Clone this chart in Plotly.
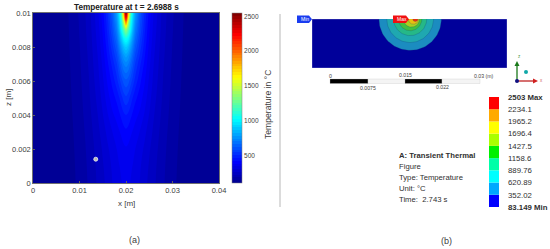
import math
import plotly.graph_objects as go

W, H = 550, 249
FONT = "Liberation Sans"
GREY = "#404040"

# ---------- data: panel (a), temperature in deg C ----------
dx_half = [0, .0005, .001, .0015, .002, .003, .004, .005, .006, .008, .010, .0125, .016, .020]
z_levels = [0, .001, .002, .003, .004, .005, .006, .007, .0075, .008, .0085, .009, .0095, .0097, .010]
temps = [
    [350, 345, 338, 330, 320, 298, 272, 250, 228, 185, 150, 120, 103, 100],
    [358, 353, 346, 338, 328, 305, 280, 256, 232, 188, 152, 121, 103, 100],
    [375, 370, 360, 350, 340, 318, 292, 265, 240, 192, 155, 122, 104, 100],
    [410, 402, 388, 375, 360, 338, 310, 280, 250, 198, 158, 124, 105, 100],
    [460, 450, 430, 410, 395, 370, 335, 298, 262, 205, 162, 126, 106, 100],
    [530, 515, 485, 455, 430, 400, 360, 315, 275, 212, 166, 128, 107, 100],
    [610, 595, 560, 520, 485, 430, 385, 332, 287, 218, 170, 130, 108, 100],
    [720, 700, 650, 590, 535, 470, 410, 350, 298, 224, 174, 132, 109, 100],
    [800, 770, 710, 635, 570, 495, 425, 358, 304, 227, 176, 133, 110, 100],
    [900, 860, 785, 690, 610, 520, 440, 368, 310, 230, 178, 134, 110, 100],
    [1050, 1000, 880, 760, 655, 545, 455, 378, 316, 233, 180, 135, 110, 100],
    [1350, 1200, 1000, 830, 700, 570, 470, 386, 322, 236, 182, 136, 110, 100],
    [2000, 1450, 1080, 890, 740, 590, 482, 394, 328, 238, 183, 137, 110, 100],
    [2300, 1600, 1120, 910, 760, 598, 487, 398, 330, 239, 184, 137, 110, 100],
    [2550, 1750, 1180, 940, 780, 610, 495, 405, 335, 242, 185, 138, 110, 100],
]
probe_x = [0.0135]
probe_z = [0.0014]
x_ticks = [0, 0.01, 0.02, 0.03, 0.04]
z_ticks = [0, 0.002, 0.004, 0.006, 0.008, 0.01]
cbar_ticks = [500, 1000, 1500, 2000, 2500]

# ---------- data: panel (b) ----------
legend_labels = ["83.149 Min", "352.02", "620.89", "889.76", "1158.6", "1427.5",
                 "1696.4", "1965.2", "2234.1", "2503 Max"]
legend_colors = ["#0000ff", "#00a8ff", "#00ffff", "#00ffa8", "#00f000",
                 "#aaff00", "#ffff00", "#ffaa00", "#ff0000"]
band_radii_mm = [4.8, 3.6, 2.55, 1.8, 1.25, 0.8, 0.4]
band_colors = ["#1b8cc0", "#1fa8b0", "#25b888", "#40c040", "#a8d020", "#e8c010", "#e83010"]
band_center_mm = [15.1, 15.1, 15.1, 15.1, 15.3, 15.6, 15.9]
info_lines = ["<b>A: Transient Thermal</b>", "Figure", "Type: Temperature", "Unit: °C", "Time:  2.743 s"]

JET = [[0, "#00008f"], [0.125, "#0000ff"], [0.375, "#00ffff"], [0.625, "#ffff00"],
       [0.875, "#ff0000"], [1, "#800000"]]


def px(x):
    return x / W


def py(y):
    return 1 - y / H


# mirror the half table about the x = 0.02 m weld line
xs = [0.02 - d for d in reversed(dx_half[1:])] + [0.02 + d for d in dx_half]
zs = [list(reversed(r[1:])) + r for r in temps]

fig = go.Figure()
fig.add_trace(go.Contour(
    x=xs, y=z_levels, z=zs, colorscale=JET, zmin=100, zmax=2550,
    contours=dict(coloring="fill", start=100, end=2550, size=40, showlines=False),
    line=dict(width=0),
    colorbar=dict(x=px(232), xanchor="left", xpad=0, ypad=0, thickness=10, thicknessmode="pixels",
                  y=py(98), yanchor="middle", len=170 / H, lenmode="fraction",
                  tickvals=cbar_ticks, ticks="", outlinewidth=0.5, outlinecolor="#808080",
                  tickfont=dict(size=6.5, color=GREY, family=FONT)),
    hoverinfo="skip", xaxis="x", yaxis="y",
))
fig.add_trace(go.Scatter(
    x=probe_x, y=probe_z, mode="markers",
    marker=dict(size=4, color="#b8b8b8", line=dict(width=0.8, color="#f0f0f0")),
    xaxis="x", yaxis="y", showlegend=False,
))

# panel (b) plate: concentric temperature bands
for r, c, cx in zip(band_radii_mm, band_colors, band_center_mm):
    n = 60
    poly_x = [cx + r * math.cos(math.pi + math.pi * i / n) for i in range(n + 1)]
    poly_y = [7.5 + r * math.sin(math.pi + math.pi * i / n) for i in range(n + 1)]
    fig.add_trace(go.Scatter(
        x=poly_x, y=poly_y, mode="lines", fill="toself", fillcolor=c,
        line=dict(width=0.4, color="rgba(20,60,110,0.6)"),
        xaxis="x2", yaxis="y2", showlegend=False, hoverinfo="skip",
    ))

# panel (b) legend
fig.add_trace(go.Bar(
    x=[1] * len(legend_colors), y=[i + 0.5 for i in range(len(legend_colors))],
    orientation="h", width=1, marker=dict(color=legend_colors, line=dict(width=0)),
    xaxis="x3", yaxis="y3", showlegend=False, hoverinfo="skip",
))

ticktext = [("<b>%s</b>" % t if "M" in t else t) for t in legend_labels]
fig.update_layout(
    width=W, height=H, margin=dict(l=0, r=0, t=0, b=0, autoexpand=False), autosize=False,
    paper_bgcolor="white", plot_bgcolor="white", showlegend=False,
    font=dict(family=FONT, color=GREY),
    xaxis=dict(domain=[px(33), px(219)], range=[0, 0.04], tickvals=x_ticks, ticktext=["0", "0.01", "0.02", "0.03", "0.04"],
               ticks="inside", ticklen=2, tickcolor="#606060", tickwidth=0.5, showgrid=False, zeroline=False,
               tickfont=dict(size=7.5, color=GREY), mirror=True, showline=True, linecolor="#707070", linewidth=0.5,
               anchor="y"),
    yaxis=dict(domain=[py(183), py(13)], range=[0, 0.01], tickvals=z_ticks, ticktext=["0", "0.002", "0.004", "0.006", "0.008", "0.01"],
               ticks="inside", ticklen=2, tickcolor="#606060", tickwidth=0.5, showgrid=False, zeroline=False,
               tickfont=dict(size=7.5, color=GREY), mirror=True, showline=True, linecolor="#707070", linewidth=0.5,
               anchor="x"),
    xaxis2=dict(domain=[px(312), px(507)], range=[0, 30], visible=False, anchor="y2", showgrid=False, zeroline=False),
    yaxis2=dict(domain=[py(68), py(19)], range=[0, 7.5], visible=False, anchor="x2", showgrid=False, zeroline=False),
    xaxis3=dict(domain=[px(489), px(499)], range=[0, 1], visible=False, anchor="y3", showgrid=False, zeroline=False),
    yaxis3=dict(domain=[py(207), py(97)], range=[0, 9], side="right", anchor="x3", showgrid=False, zeroline=False,
                showline=False, ticks="", tickvals=list(range(10)), ticktext=ticktext, ticklabelstandoff=8,
                tickfont=dict(size=7.8, color="#303030")),
)

shapes = [
    # plate background (panel b)
    dict(type="rect", xref="x2", yref="y2", x0=0, x1=30, y0=0, y1=7.5, fillcolor="#00009a",
         line=dict(width=0.5, color="#9090d0"), layer="below"),
    # divider
    dict(type="line", xref="paper", yref="paper", x0=px(280), x1=px(280), y0=py(14), y1=py(207),
         line=dict(width=1, color="#b8b8b8")),
]


def flag(x0, x1, y0, y1, color):
    tip = x1 - 3
    ym = (y0 + y1) / 2
    path = "M %.4f %.4f L %.4f %.4f L %.4f %.4f L %.4f %.4f L %.4f %.4f Z" % (
        px(x0), py(y0), px(tip), py(y0), px(x1), py(ym), px(tip), py(y1), px(x0), py(y1))
    return dict(type="path", xref="paper", yref="paper", path=path, fillcolor=color, line=dict(width=0))


shapes += [flag(297, 312, 15.5, 23, "#1a3cf0"), flag(393, 409, 15.5, 23, "#f01010")]

# scale bar
for x0, x1, c in [(330, 368, "#000000"), (368, 405, "#f4f4f4"), (405, 442, "#000000"), (442, 480, "#f4f4f4")]:
    shapes.append(dict(type="rect", xref="paper", yref="paper", x0=px(x0), x1=px(x1), y0=py(83.5), y1=py(79),
                       fillcolor=c, line=dict(width=0.3, color="#c0c0c0")))

# triad stems
shapes += [
    dict(type="line", xref="paper", yref="paper", x0=px(517), x1=px(517), y0=py(81), y1=py(64),
         line=dict(width=1.5, color="#3a8a3a")),
    dict(type="line", xref="paper", yref="paper", x0=px(517), x1=px(534), y0=py(81), y1=py(81),
         line=dict(width=1.5, color="#c84040")),
    dict(type="path", xref="paper", yref="paper",
         path="M %.4f %.4f L %.4f %.4f L %.4f %.4f Z" % (px(514.5), py(66), px(519.5), py(66), px(517), py(61)),
         fillcolor="#1a7a1a", line=dict(width=0)),
    dict(type="path", xref="paper", yref="paper",
         path="M %.4f %.4f L %.4f %.4f L %.4f %.4f Z" % (px(533), py(78.5), px(533), py(83.5), px(538), py(81)),
         fillcolor="#d02020", line=dict(width=0)),
    dict(type="circle", xref="paper", yref="paper", x0=px(515), x1=px(519), y0=py(83), y1=py(79),
         fillcolor="#101080", line=dict(width=0)),
    dict(type="circle", xref="paper", yref="paper", x0=px(524), x1=px(528), y0=py(74), y1=py(70),
         fillcolor="#10a8a8", line=dict(width=0)),
]
fig.update_layout(shapes=shapes)


def note(text, x, y, size=8, color=GREY, anchor="center", angle=0):
    fig.add_annotation(text=text, x=px(x), y=py(y), xref="paper", yref="paper", showarrow=False,
                       xanchor=anchor, yanchor="middle", textangle=angle, align="left",
                       font=dict(size=size, color=color, family=FONT))


note("<b>Temperature at t = 2.6988 s</b>", 126, 7, size=8.2, color="#202020")
note("x [m]", 126, 203, size=8)
note("z [m]", 8, 98, size=8, angle=-90)
note("Temperature in °C", 268, 105, size=8.6, angle=-90)
note("(a)", 134, 240, size=9)
note("(b)", 446, 241, size=9)
note("Min", 299, 19.5, size=5, color="white", anchor="left")
note("Max", 395, 19.5, size=5, color="white", anchor="left")
note("0", 330, 75.5, size=5.2)
note("0.015", 405, 75, size=5.2)
note("0.03 (m)", 484, 75.5, size=5.2)
note("0.0075", 368, 88, size=5.2)
note("0.022", 442, 87.5, size=5.2)
note("z", 519, 57, size=4.5, color="#4a9a4a")
note("x", 541, 80, size=4.5, color="#d06060")
for i, line in enumerate(info_lines):
    note(line, 397, 155 + 11 * i, size=7.7, color="#303030", anchor="left")

fig.write_html("out.html", config={"displayModeBar": False},
               post_script="document.body.style.margin='0';document.documentElement.style.overflow='hidden';")
